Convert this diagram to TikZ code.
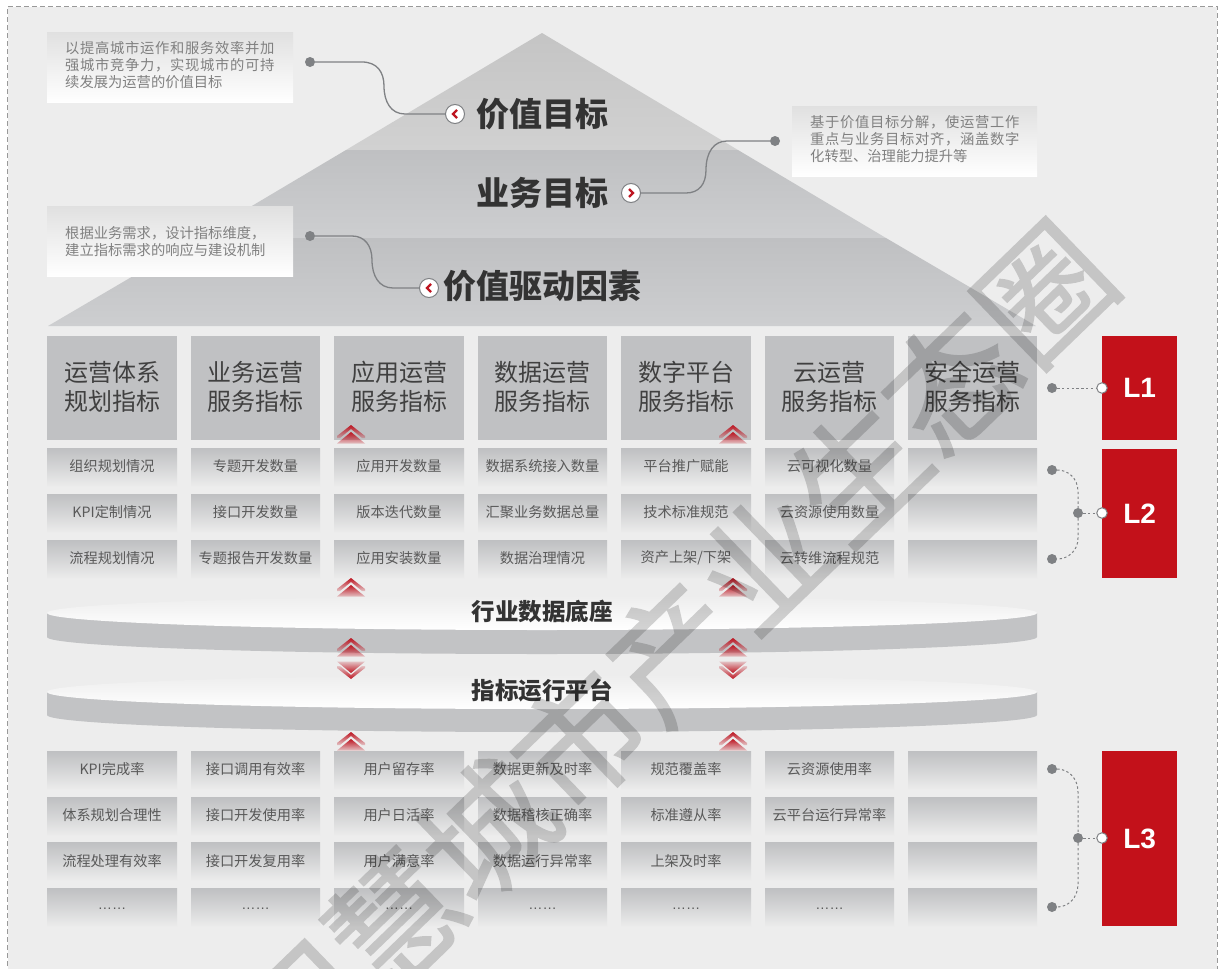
\documentclass[tikz,border=0pt]{standalone}
\usepackage{fontspec}
\setmainfont{Noto Sans CJK SC}
\newfontfamily\latinfont{Liberation Sans}
\newfontfamily\wmfont[FakeBold=1.3]{Noto Sans CJK SC}
\newcommand{\wideline}[1]{{\addfontfeatures{LetterSpace=4.9}#1}}
\usetikzlibrary{fadings}
\definecolor{bgc}{HTML}{EDEDED}
\definecolor{hdr}{HTML}{C0C1C3}
\definecolor{celltop}{HTML}{BFC0C2}
\definecolor{lvl}{HTML}{C3111A}
\definecolor{linec}{HTML}{7F8184}
\definecolor{bandtop}{HTML}{BFC0C2}
\definecolor{bandbot}{HTML}{CDCED0}
\definecolor{chevc}{HTML}{BE1622}
\definecolor{discgrey}{HTML}{C2C3C5}
\tikzfading[name=chevdown,top color=transparent!0,bottom color=transparent!80]
\tikzfading[name=chevup,top color=transparent!80,bottom color=transparent!0]
\tikzset{
  x=1pt,y=-1pt,
  hdrbox/.style={anchor=north west,inner sep=0pt,minimum height=104pt,fill=hdr},
  hdrtext/.style={inner sep=0pt,text=black!75,align=center,font=\fontsize{24}{29}\selectfont},
  cellbox/.style={anchor=north west,inner sep=0pt,minimum height=39pt,top color=celltop,bottom color=bgc,middle color=celltop!52!bgc},
  celltext/.style={text=black!65,font=\fontsize{14.2}{17}\selectfont},
  notebox/.style={anchor=north west,inner sep=0pt,minimum width=246pt,minimum height=70pt,top color=black!12,bottom color=white},
  notetext/.style={anchor=west,inner sep=0pt,text=black!50,align=left,font=\fontsize{14.3}{17}\selectfont},
  title/.style={inner sep=0pt,text=black!80,font=\bfseries\fontsize{33}{33}\selectfont},
  disctext/.style={inner sep=0pt,text=black!80,font=\bfseries\fontsize{23.5}{24}\selectfont},
  lvlbox/.style={anchor=north west,inner sep=0pt,minimum width=75pt,fill=lvl,text=white,font=\latinfont\bfseries\fontsize{28}{28}\selectfont},
  dot/.style={circle,fill=linec,inner sep=0pt,minimum size=10pt},
  opencirc/.style={circle,draw=linec,line width=1pt,fill=white,inner sep=0pt,minimum size=10.5pt},
  iconcirc/.style={circle,draw=linec,line width=1pt,fill=white,inner sep=0pt,minimum size=19pt},
  chevmark/.style={draw=chevc,line width=2.4pt},
  link/.style={draw=linec,line width=1.3pt},
  dashlink/.style={draw=linec,line width=1pt,dash pattern=on 2.4pt off 2.4pt},
  upchev/.pic={
    \fill[chevc,path fading=chevdown] (0,0) -- (14,11) -- (14,13) -- (11,13) -- (0,4) -- (-11,13) -- (-14,13) -- (-14,11) -- cycle;
    \fill[chevc,path fading=chevdown] (0,7) -- (14,18.5) -- (-14,18.5) -- cycle;
  },
  downchev/.pic={
    \fill[chevc,path fading=chevup] (0,0) -- (14,-11) -- (14,-13) -- (11,-13) -- (0,-4) -- (-11,-13) -- (-14,-13) -- (-14,-11) -- cycle;
    \fill[chevc,path fading=chevup] (0,-6) -- (14,-17.5) -- (-14,-17.5) -- cycle;
  },
}
\begin{document}
\begin{tikzpicture}
\useasboundingbox (0,0) rectangle (1218,969);
\begin{scope}
\clip (0,0) rectangle (1218,969);
% frame
\fill[bgc] (7.5,6.5) rectangle (1217,990);
\draw[black!40,line width=1pt,dash pattern=on 5pt off 3pt] (7.5,990) -- (7.5,6.5) -- (1217,6.5) -- (1217,990);

% pyramid
\path[shade,top color=black!23,bottom color=black!18] (542,33) -- (346,150) -- (738,150) -- cycle;
\path[shade,top color=bandtop,bottom color=bandbot] (346,150) -- (198,238) -- (886,238) -- (738,150) -- cycle;
\path[shade,top color=bandtop,bottom color=bandbot] (198,238) -- (48,326) -- (1036,326) -- (886,238) -- cycle;

% notes
\node[notebox] (n1) at (47,32) {};
\node[notetext] (n1t) at (65,65) {\wideline{以提高城市运作和服务效率并加}\\\wideline{强城市竞争力，实现城市的可持}\\续发展为运营的价值目标};
\node[notebox] (n2) at (47,206) {};
\node[notetext] (n2t) at (65,241.5) {根据业务需求，设计指标维度，\\建立指标需求的响应与建设机制};
\node[notebox,minimum width=245pt] (n3) at (792,106) {};
\node[notetext] (n3t) at (810,139) {\wideline{基于价值目标分解，使运营工作}\\\wideline{重点与业务目标对齐，涵盖数字}\\化转型、治理能力提升等};

% titles
\node[title] (t1) at (542,114) {价值目标};
\node[title] (t2) at (542,193) {业务目标};
\node[title] (t3) at (542,286) {价值驱动因素};

% icons
\node[dot] (d1) at (310,62) {};
\node[dot] (d2) at (775,141) {};
\node[dot] (d3) at (310,236) {};
\node[iconcirc] (c1) at (455,114) {};
\node[iconcirc] (c2) at (631,193) {};
\node[iconcirc] (c3) at (429,288) {};
\draw[link] (d1) -- (362,62) .. controls (377,62) and (384,72) .. (384,86) .. controls (384,102) and (391,114) .. (405,114) -- (c1);
\draw[link] (c2) -- (686,193) .. controls (699,193) and (706,184) .. (706,170) .. controls (706,152) and (714,141) .. (727,141) -- (d2);
\draw[link] (d3) -- (352,236) .. controls (365,236) and (372,246) .. (372,260) .. controls (372,276) and (379,288) .. (393,288) -- (c3);
\draw[chevmark] (457,110) -- (453,114) -- (457,118);
\draw[chevmark] (629,189) -- (633,193) -- (629,197);
\draw[chevmark] (431,284) -- (427,288) -- (431,292);

% headers
\foreach \x/\w/\t [count=\i] in {47/130/运营体系\\规划指标,191/129/业务运营\\服务指标,334/130/应用运营\\服务指标,478/129/数据运营\\服务指标,621/130/数字平台\\服务指标,765/129/云运营\\服务指标,908/129/安全运营\\服务指标}{
  \node[hdrbox,minimum width=\w pt] (h\i) at (\x,336) {};
  \node[hdrtext] (h\i t) at (\x+\w/2,386.5) {\t};
}

% L2 cells
\foreach \y/\r/\cells in {448/a/{组织规划情况,专题开发数量,应用开发数量,数据系统接入数量,平台推广赋能,云可视化数量,{}},
                         494/b/{KPI定制情况,接口开发数量,版本迭代数量,汇聚业务数据总量,技术标准规范,云资源使用数量,{}},
                         540/c/{流程规划情况,专题报告开发数量,应用安装数量,数据治理情况,资产上架/下架,云转维流程规范,{}}}
  \foreach \t [count=\i] in \cells {
    \pgfmathsetmacro{\xx}{{47,191,334,478,621,765,908}[\i-1]}
    \pgfmathsetmacro{\ww}{{130,129,130,129,130,129,129}[\i-1]}
    \node[cellbox,minimum width=\ww pt] (\r\i) at (\xx,\y) {};
    \node[celltext] (\r\i t) at (\xx+\ww/2,\y+18) {\t};
  }

% L3 cells
\foreach \y/\tt/\r/\cells in {751/769/p/{KPI完成率,接口调用有效率,用户留存率,数据更新及时率,规范覆盖率,云资源使用率,{}},
                         797/815/q/{体系规划合理性,接口开发使用率,用户日活率,数据稽核正确率,标准遵从率,云平台运行异常率,{}},
                         842/861/r/{流程处理有效率,接口开发复用率,用户满意率,数据运行异常率,上架及时率,{},{}}}
  \foreach \t [count=\i] in \cells {
    \pgfmathsetmacro{\xx}{{47,191,334,478,621,765,908}[\i-1]}
    \pgfmathsetmacro{\ww}{{130,129,130,129,130,129,129}[\i-1]}
    \node[cellbox,minimum width=\ww pt] (\r\i) at (\xx,\y) {};
    \node[celltext] (\r\i t) at (\xx+\ww/2,\tt) {\t};
  }
\foreach \t [count=\i] in {……,……,……,……,……,……,{}} {
    \pgfmathsetmacro{\xx}{{47,191,334,478,621,765,908}[\i-1]}
    \pgfmathsetmacro{\ww}{{130,129,130,129,130,129,129}[\i-1]}
    \node[cellbox,minimum width=\ww pt] (s\i) at (\xx,888) {};
    \node[celltext,anchor=base,font=\latinfont\fontsize{14.2}{17}\selectfont] (s\i t) at (\xx+\ww/2,909) {\t};
}

% discs
\fill[discgrey] (47,613) -- (47,637) arc[start angle=180,end angle=360,x radius=495pt,y radius=17pt] -- (1037,613) -- cycle;
\path[shade,top color=bgc,bottom color=white] (47,613) arc[start angle=180,end angle=-180,x radius=495pt,y radius=17pt] -- cycle;
\fill[discgrey] (47,692) -- (47,715) arc[start angle=180,end angle=360,x radius=495pt,y radius=17pt] -- (1037,692) -- cycle;
\path[shade,top color=bgc,bottom color=white] (47,692) arc[start angle=180,end angle=-180,x radius=495pt,y radius=17pt] -- cycle;
\node[disctext] (disc1) at (542,611) {行业数据底座};
\node[disctext] (disc2) at (542,690) {指标运行平台};

% chevrons
\foreach \y/\k in {425/a,578/b,638/c,732/d}{
  \pic (up1\k) at (351,\y) {upchev};
  \pic (up2\k) at (733,\y) {upchev};
}
\pic (dn1) at (351,679) {downchev};
\pic (dn2) at (733,679) {downchev};

% levels
\node[lvlbox,minimum height=104pt] (L1) at (1102,336) {L1};
\node[lvlbox,minimum height=129pt] (L2) at (1102,449) {L2};
\node[lvlbox,minimum height=175pt] (L3) at (1102,751) {L3};

\node[dot] (e1) at (1052,388) {};
\node[opencirc] (o1) at (1102,388) {};
\draw[dashlink] (e1) -- (o1);

\node[dot] (e2a) at (1052,470) {};
\node[dot] (e2b) at (1052,559) {};
\node[dot] (j2) at (1078,513) {};
\node[opencirc] (o2) at (1102,513) {};
\draw[dashlink] (e2a) .. controls (1068,470) and (1078,478) .. (1078,492) -- (j2) -- (1078,538) .. controls (1078,551) and (1068,559) .. (e2b);
\draw[dashlink] (j2) -- (o2);

\node[dot] (e3a) at (1052,769) {};
\node[dot] (e3b) at (1052,907) {};
\node[dot] (j3) at (1078,838) {};
\node[opencirc] (o3) at (1102,838) {};
\draw[dashlink] (e3a) .. controls (1068,769) and (1078,778) .. (1078,792) -- (j3) -- (1078,884) .. controls (1078,898) and (1068,907) .. (e3b);
\draw[dashlink] (j3) -- (o3);

% watermark
\begin{scope}[transparency group,opacity=.17]
\node[rotate=44,inner sep=0pt,text=black,font=\wmfont\fontsize{129}{129}\selectfont] (wm) at (673,651) {智慧城市产业生态圈};
\end{scope}
\end{scope}
\end{tikzpicture}
\end{document}
